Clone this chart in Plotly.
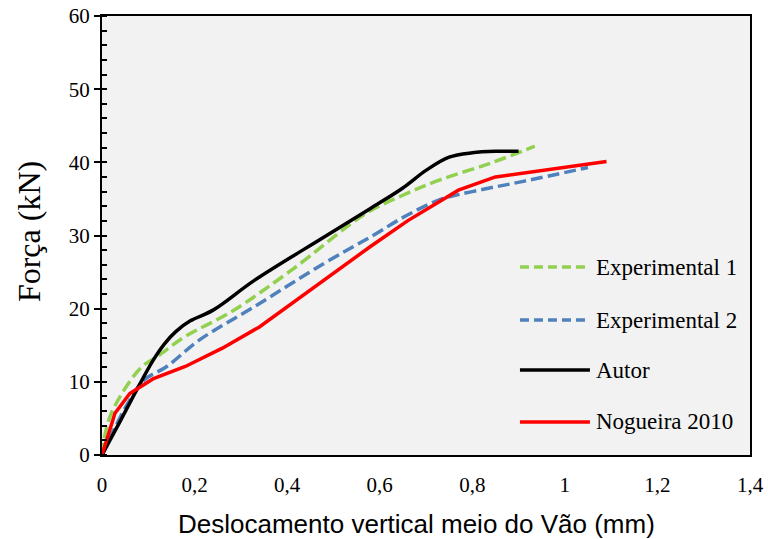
import plotly.graph_objects as go

# Load-displacement curves (midspan vertical displacement in mm, force in kN)
exp1_x = [0, 0.005, 0.017, 0.043, 0.085, 0.12, 0.18, 0.28, 0.41, 0.57, 0.65, 0.73, 0.84, 0.935]
exp1_y = [0, 2.3, 5.2, 8.4, 12.0, 13.5, 16.2, 19.6, 25.3, 33.0, 35.5, 37.6, 39.9, 42.2]

exp2_x = [0, 0.03, 0.06, 0.09, 0.14, 0.21, 0.33, 0.48, 0.58, 0.66, 0.73, 0.80, 0.91, 1.05]
exp2_y = [0, 4.0, 7.5, 10.2, 12.1, 15.7, 20.3, 26.2, 29.8, 32.8, 34.9, 36.0, 37.4, 39.3]

autor_x = [0, 0.04, 0.075, 0.111, 0.135, 0.16, 0.19, 0.24, 0.33, 0.48, 0.58, 0.65, 0.70, 0.75, 0.80, 0.85, 0.90]
autor_y = [0, 4.7, 8.9, 13.0, 15.2, 16.9, 18.3, 19.8, 23.9, 29.8, 33.7, 36.5, 38.9, 40.7, 41.3, 41.5, 41.5]

nog_x = [0, 0.028, 0.06, 0.11, 0.18, 0.26, 0.34, 0.48, 0.58, 0.66, 0.77, 0.85, 1.09]
nog_y = [0, 5.7, 8.4, 10.4, 12.1, 14.6, 17.5, 23.9, 28.5, 32.0, 36.2, 38.0, 40.1]

names = ["Experimental 1", "Experimental 2", "Autor", "Nogueira 2010"]
colors = ["#92d050", "#4f81bd", "#000000", "#ff0000"]
dashes = ["12px,5px", "12px,5px", "solid", "solid"]
legend_dashes = ["9px,5px", "9px,5px", "solid", "solid"]
shapes_kind = ["spline", "spline", "spline", "linear"]
xs = [exp1_x, exp2_x, autor_x, nog_x]
ys = [exp1_y, exp2_y, autor_y, nog_y]

x_title = "Deslocamento vertical meio do Vão (mm)"
y_title = "Força (kN)"

serif = "Liberation Serif, Times New Roman, serif"
sans = "Liberation Sans, Arial, sans-serif"

fig = go.Figure()
for name, color, dash, shp, x, y in zip(names, colors, dashes, shapes_kind, xs, ys):
    fig.add_trace(go.Scatter(
        x=x, y=y, name=name, mode="lines",
        line=dict(color=color, width=3.5, dash=dash, shape=shp),
        showlegend=False,
    ))

# Legend drawn as line samples and labels inside the plot area
leg_y = [0.428, 0.3075, 0.1936, 0.0752]
for name, color, dash, ly in zip(names, colors, legend_dashes, leg_y):
    fig.add_shape(type="line", xref="paper", yref="paper",
                  x0=0.645, x1=0.753, y0=ly, y1=ly,
                  line=dict(color=color, width=3.5, dash=dash))
    fig.add_annotation(xref="paper", yref="paper", x=0.760, y=ly,
                       text=name, showarrow=False, xanchor="left", yanchor="middle",
                       font=dict(family=serif, size=23, color="#000000"))

# Axis titles
fig.add_annotation(xref="paper", yref="paper", x=0.4846, y=-0.157,
                   text=x_title, showarrow=False, xanchor="center", yanchor="middle",
                   font=dict(family=sans, size=26, color="#000000"))
fig.add_annotation(xref="paper", yref="paper", x=-0.1127, y=0.51,
                   text=y_title, showarrow=False, textangle=-90,
                   xanchor="center", yanchor="middle",
                   font=dict(family=serif, size=32, color="#000000"))

fig.update_layout(
    width=768, height=539,
    margin=dict(l=102, r=18, t=16, b=84),
    paper_bgcolor="#ffffff",
    plot_bgcolor="#f2f2f2",
    separators=",.",
    showlegend=False,
    xaxis=dict(
        range=[0, 1.4], dtick=0.2, tick0=0,
        showgrid=False, zeroline=False, automargin=False,
        showline=True, linecolor="#000000", linewidth=2, mirror=True,
        ticks="", ticklabelstandoff=10,
        tickfont=dict(family=serif, size=21, color="#000000"),
    ),
    yaxis=dict(
        range=[0, 60], dtick=10, tick0=0,
        showgrid=False, zeroline=False, automargin=False,
        showline=True, linecolor="#000000", linewidth=2, mirror=True,
        ticks="outside", ticklen=6, tickwidth=2, tickcolor="#000000",
        minor=dict(ticks="inside", dtick=2, ticklen=5, tickwidth=2, tickcolor="#000000"),
        tickfont=dict(family=serif, size=21, color="#000000"),
    ),
)

fig.write_html("out.html")
